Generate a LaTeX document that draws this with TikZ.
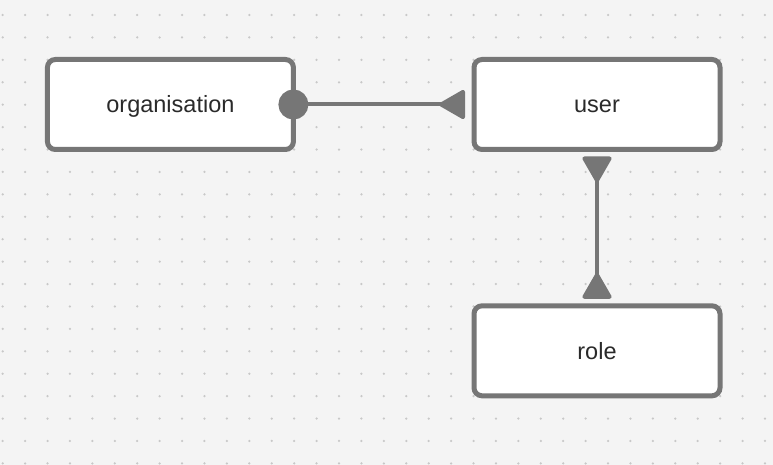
\documentclass[tikz,border=0pt]{standalone}
\usepackage{fontspec}
\setmainfont{Liberation Sans}
\usetikzlibrary{arrows.meta}
\definecolor{bgc}{HTML}{F4F4F4}
\definecolor{dotc}{HTML}{C8C8C8}
\definecolor{edgec}{HTML}{767676}
\definecolor{txtc}{HTML}{2A2A2A}
\tikzset{
  entity/.style={draw=edgec, line width=5pt, fill=white, rounded corners=8pt,
    minimum width=246pt, minimum height=90pt, inner sep=0pt, outer sep=0pt,
    text=txtc, font=\fontsize{23.5}{28}\selectfont,
    text height=16.8pt, text depth=0pt},
  rel/.style={draw=edgec, line width=4pt},
  mytri/.tip={Triangle[reversed,length=28pt,width=31pt,round]},
  mydot/.tip={Circle[length=30pt]},
}
\begin{document}
\begin{tikzpicture}[x=1pt,y=-1pt]
\fill[bgc] (0,0) rectangle (773,465);
\useasboundingbox (0,0) rectangle (773,465);
\foreach \i in {0,...,34}{
  \foreach \j in {0,...,20}{
    \fill[dotc] ({2.7+22.42*\i},{15+22.42*\j}) circle (1.25pt);
  }
}
\node[entity] (org) at (170.4,104.5) {organisation};
\node[entity] (user) at (597,104.5) {user};
\node[entity] (role) at (597,350.8) {role};
\draw[rel, mydot-mytri,
  shorten <=-15pt, shorten >=9pt] (org.east) -- (user.west);
\draw[rel, mytri-mytri,
  shorten <=7pt, shorten >=7pt] (user.south) -- (role.north);
\end{tikzpicture}
\end{document}
